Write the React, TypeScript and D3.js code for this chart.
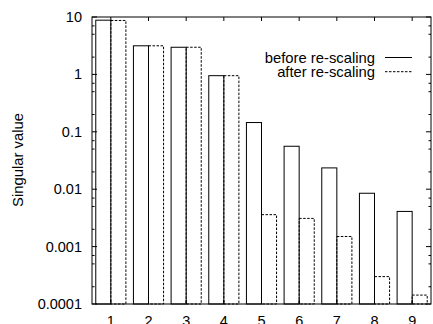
import React from "react";
import * as d3 from "d3";

const categories = [1, 2, 3, 4, 5, 6, 7, 8, 9];
const beforeValues = [8.8, 3.15, 2.97, 0.95, 0.145, 0.056, 0.0235, 0.0085, 0.0041];
const afterValues = [8.7, 3.15, 2.97, 0.95, 0.0036, 0.0031, 0.0015, 0.0003, 0.000143];
const yTickValues = [10, 1, 0.1, 0.01, 0.001, 0.0001];
const yTickLabels = ["10", "1", "0.1", "0.01", "0.001", "0.0001"];
const seriesNames = ["before re-scaling", "after re-scaling"];

const W = 433;
const H = 324;
const left = 92;
const right = 431;
const top = 17;
const bottom = 304;
const FONT = "'Liberation Sans', Arial, sans-serif";

export default function App() {
  const x = d3.scaleLinear().domain([0.5, 9.5]).range([left, right]);
  const y = d3.scaleLog().domain([0.0001, 10]).range([bottom, top]);
  const bw = x(0.4) - x(0);

  const minor: number[] = [];
  [0.0001, 0.001, 0.01, 0.1, 1].forEach((d) => {
    [2, 5, 7].forEach((m) => minor.push(d * m));
  });

  return (
    <svg
      width={W}
      height={H}
      style={{ position: "absolute", left: 0, top: 0, background: "#fff" }}
      fontFamily={FONT}
    >
      <rect x={0} y={0} width={W} height={H} fill="#fff" />
      {/* after bars (dashed) */}
      {categories.map((c, i) => (
        <rect
          key={"a" + c}
          x={x(c)}
          y={y(afterValues[i])}
          width={bw}
          height={bottom - y(afterValues[i])}
          fill="none"
          stroke="#000"
          strokeWidth={1}
          strokeDasharray="2.5,1.5"
        />
      ))}
      {/* before bars (solid) */}
      {categories.map((c, i) => (
        <rect
          key={"b" + c}
          x={x(c) - bw}
          y={y(beforeValues[i])}
          width={bw}
          height={bottom - y(beforeValues[i])}
          fill="none"
          stroke="#000"
          strokeWidth={1}
        />
      ))}
      {/* frame */}
      <rect x={left} y={top} width={right - left} height={bottom - top} fill="none" stroke="#000" strokeWidth={1} />
      {/* y major ticks */}
      {yTickValues.map((v, i) => (
        <g key={"yt" + i}>
          <line x1={left} x2={left + 5} y1={y(v)} y2={y(v)} stroke="#000" />
          <line x1={right} x2={right - 5} y1={y(v)} y2={y(v)} stroke="#000" />
          <text x={82} y={y(v)} dy="0.35em" textAnchor="end" fontSize={14.5}>
            {yTickLabels[i]}
          </text>
        </g>
      ))}
      {minor.map((v, i) => (
        <g key={"ym" + i}>
          <line x1={left} x2={left + 2.5} y1={y(v)} y2={y(v)} stroke="#000" />
          <line x1={right} x2={right - 2.5} y1={y(v)} y2={y(v)} stroke="#000" />
        </g>
      ))}
      {/* x ticks */}
      {categories.map((c) => (
        <g key={"xt" + c}>
          <line x1={x(c)} x2={x(c)} y1={top} y2={top + 4} stroke="#000" />
          <line x1={x(c)} x2={x(c)} y1={bottom} y2={bottom - 4} stroke="#000" />
          <text x={x(c)} y={326} textAnchor="middle" fontSize={14.5}>
            {c}
          </text>
        </g>
      ))}
      {/* y label */}
      <text transform="translate(23,160) rotate(-90)" textAnchor="middle" fontSize={14.8}>
        Singular value
      </text>
      {/* legend */}
      <text x={375} y={63.3} textAnchor="end" fontSize={14.8}>
        {seriesNames[0]}
      </text>
      <line x1={385} x2={412} y1={57.5} y2={57.5} stroke="#000" />
      <text x={375} y={77.3} textAnchor="end" fontSize={14.8}>
        {seriesNames[1]}
      </text>
      <line x1={385} x2={412} y1={71.7} y2={71.7} stroke="#000" strokeDasharray="2.5,1.5" />
    </svg>
  );
}
